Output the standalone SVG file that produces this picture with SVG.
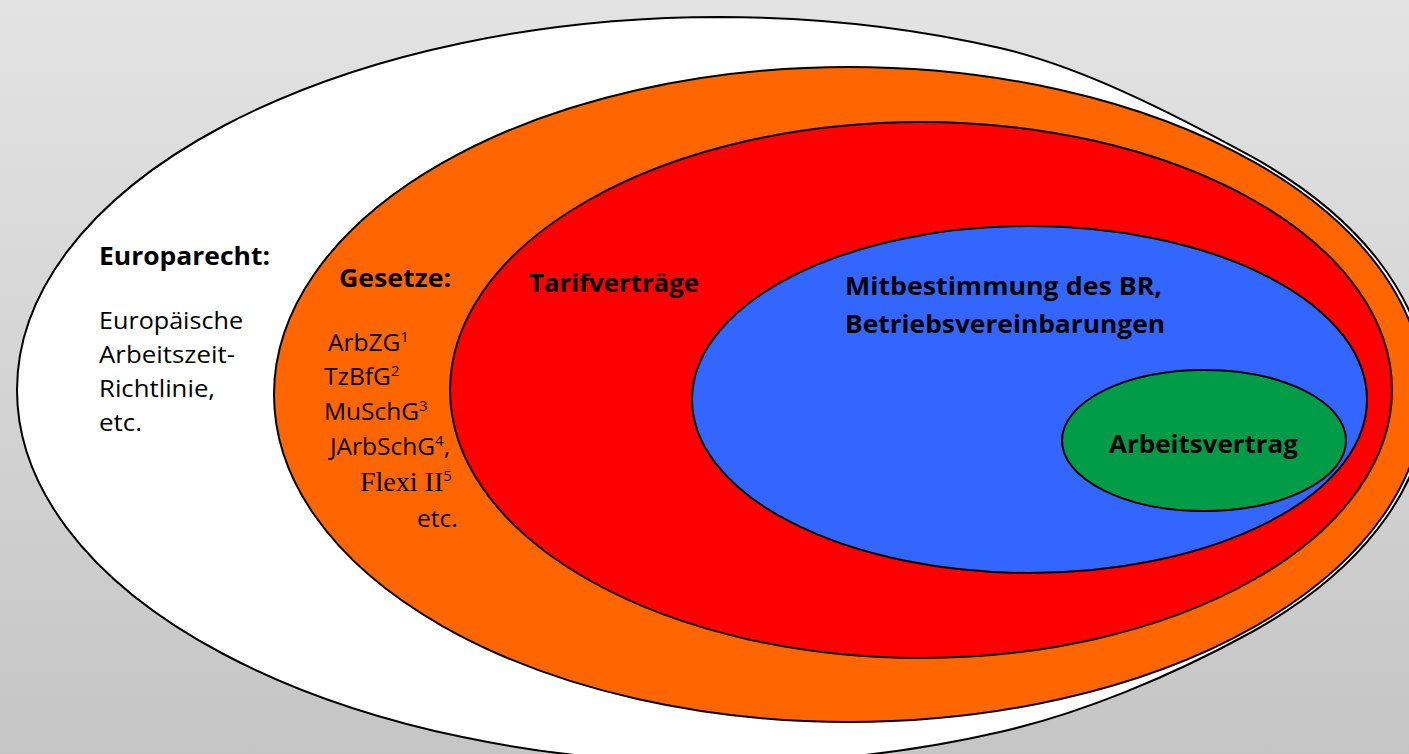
<svg xmlns="http://www.w3.org/2000/svg" width="1409" height="754" viewBox="0 0 1409 754">
<defs>
<linearGradient id="bg" x1="0" y1="0" x2="0" y2="1">
<stop offset="0" stop-color="#E3E3E3"/>
<stop offset="1" stop-color="#C5C5C5"/>
</linearGradient>
</defs>
<style>
.ring{stroke:#000;stroke-width:2}
.t{font-family:"Open Sans","Liberation Sans",sans-serif;font-size:24.5px;fill:#000}
.b{font-weight:bold}
.s{font-size:15px}
.serif{font-family:"Liberation Serif","Times New Roman",serif;font-size:28px}
</style>
<rect width="1409" height="754" fill="url(#bg)"/>
<g id="europarecht">
<path class="ring" fill="#FFFFFF" d="M720,17 A703,373 0 0 0 720,763 A703,373 0 0 0 1000,732 C1080,713.6 1170,676.9 1250,633 A579,331 0 0 0 1250,155.7 C1170,111.8 1080,66.4 1000,48 A703,373 0 0 0 720,17 Z"/>
<text class="t b" x="99" y="265" textLength="171" lengthAdjust="spacingAndGlyphs">Europarecht:</text>
<text class="t" x="99" y="329" textLength="144" lengthAdjust="spacingAndGlyphs">Europäische</text>
<text class="t" x="99" y="363" textLength="136" lengthAdjust="spacingAndGlyphs">Arbeitszeit-</text>
<text class="t" x="99" y="397" textLength="116" lengthAdjust="spacingAndGlyphs">Richtlinie,</text>
<text class="t" x="99" y="431" textLength="43" lengthAdjust="spacingAndGlyphs">etc.</text>
</g>
<g id="gesetze">
<ellipse class="ring" cx="849" cy="394.5" rx="575" ry="327.5" fill="#FF6600"/>
<text class="t b" x="339" y="287" textLength="112" lengthAdjust="spacingAndGlyphs">Gesetze:</text>
<text class="t" x="328" y="351">ArbZG<tspan class="s" dy="-9">1</tspan></text>
<text class="t" x="324" y="385">TzBfG<tspan class="s" dy="-9">2</tspan></text>
<text class="t" x="324" y="420">MuSchG<tspan class="s" dy="-9">3</tspan></text>
<text class="t" x="330" y="455">JArbSchG<tspan class="s" dy="-9">4</tspan><tspan dy="9">,</tspan></text>
<text class="serif" x="360" y="491">Flexi II<tspan class="t s" dy="-10">5</tspan></text>
<text class="t" x="417" y="527">etc.</text>
</g>
<g id="tarifvertraege">
<ellipse class="ring" cx="921" cy="390" rx="471" ry="268" fill="#FF0000"/>
<text class="t b" x="529" y="292" textLength="170" lengthAdjust="spacingAndGlyphs">Tarifverträge</text>
</g>
<g id="mitbestimmung">
<ellipse class="ring" cx="1029.5" cy="399.5" rx="337.5" ry="173.5" fill="#3366FF"/>
<text class="t b" x="845" y="295" textLength="317" lengthAdjust="spacingAndGlyphs">Mitbestimmung des BR,</text>
<text class="t b" x="845" y="333" textLength="320" lengthAdjust="spacingAndGlyphs">Betriebsvereinbarungen</text>
</g>
<g id="arbeitsvertrag">
<ellipse class="ring" cx="1204" cy="440.5" rx="142" ry="70.5" fill="#009C48"/>
<text class="t b" x="1109" y="453" textLength="189" lengthAdjust="spacingAndGlyphs">Arbeitsvertrag</text>
</g>
<g id="connectors"/>
</svg>
